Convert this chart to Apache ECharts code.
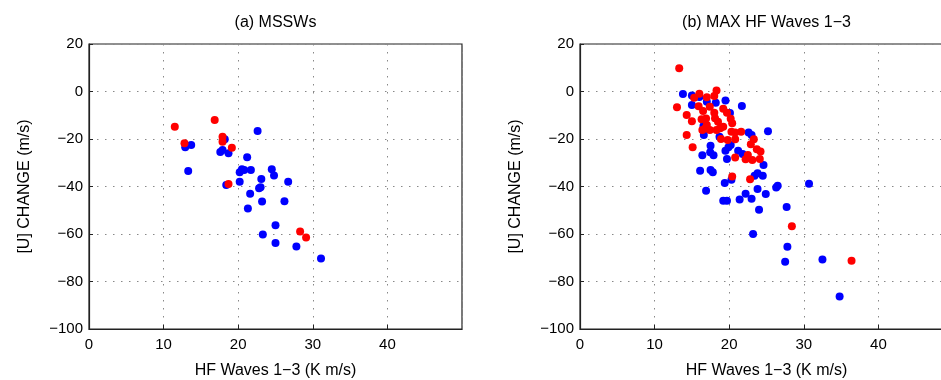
<!DOCTYPE html>
<html>
<head>
<meta charset="utf-8">
<script src="https://cdn.jsdelivr.net/npm/echarts@6/dist/echarts.min.js"></script>
<style>
html,body{margin:0;padding:0;background:#fff;overflow:hidden;}
#c{width:941px;height:380px;}
</style>
</head>
<body>
<div id="c"></div>
<script>
// ---- data ----
var panelTitles = ['(a) MSSWs', '(b) MAX HF Waves 1\u22123'];
var xAxisTitle = 'HF Waves 1\u22123 (K m/s)';
var yAxisTitle = '[U] CHANGE (m/s)';
var xTicks = [0, 10, 20, 30, 40];
var yTicks = [-100, -80, -60, -40, -20, 0, 20];

var mssw_blue = [
  [22.6,-16.6],[12.9,-23.5],[13.7,-22.5],[18.2,-20.1],[17.6,-25.5],[17.9,-24.6],
  [18.7,-26.0],[13.3,-33.5],[21.2,-27.7],[20.2,-34.0],[20.5,-32.7],[20.8,-33.0],
  [21.7,-33.0],[24.5,-32.7],[24.8,-35.4],[23.1,-36.8],[26.7,-38.0],[20.2,-38.0],
  [18.4,-39.4],[22.8,-40.7],[23.0,-40.3],[21.6,-43.1],[23.2,-46.3],[26.2,-46.2],
  [21.3,-49.3],[25.0,-56.3],[23.3,-60.2],[25.0,-63.8],[27.8,-65.3],[31.1,-70.3]
];
var mssw_red = [
  [11.5,-14.8],[16.85,-12.0],[12.8,-21.8],[17.9,-19.0],[17.9,-21.2],[19.15,-23.7],
  [18.7,-38.9],[28.3,-58.9],[29.1,-61.5]
];
var max_blue = [
  [13.8,-1.0],[15.0,-1.7],[15.0,-5.7],[16.0,-2.3],[17.0,-4.3],[18.2,-4.7],[19.5,-3.8],
  [21.7,-6.1],[20.1,-9.1],[16.55,-14.5],[16.6,-18.3],[18.7,-19.1],[22.6,-17.3],
  [23.0,-18.3],[25.2,-16.7],[17.5,-22.8],[17.45,-25.6],[16.4,-26.8],[17.9,-26.8],
  [19.5,-24.9],[19.9,-23.5],[20.2,-22.5],[19.7,-28.4],[21.2,-24.9],[21.8,-26.3],
  [24.6,-30.9],[23.8,-34.4],[23.4,-35.5],[24.5,-35.5],[16.1,-33.4],[17.5,-33.0],
  [17.8,-34.0],[19.4,-38.5],[20.3,-37.2],[16.9,-41.8],[22.2,-43.1],[23.8,-41.0],
  [24.9,-43.2],[26.3,-40.4],[26.5,-39.7],[19.2,-46.0],[19.7,-46.0],[21.4,-45.5],
  [23.0,-45.2],[24.0,-49.8],[27.7,-48.6],[23.2,-60.0],[27.8,-65.4],[27.5,-71.7],
  [32.5,-70.7],[34.8,-86.3],[30.7,-38.8]
];
var max_red = [
  [13.3,9.8],[13.0,-6.6],[14.3,-9.9],[14.3,-18.3],[15.1,-23.5],[15.0,-12.5],
  [15.3,-2.6],[16.0,-0.9],[15.9,-6.2],[16.5,-8.2],[16.3,-11.7],[16.4,-16.2],
  [17.0,-2.4],[17.4,-6.4],[18.0,-1.9],[18.3,0.4],[16.9,-11.4],[17.0,-14.1],
  [18.0,-8.9],[18.1,-11.3],[18.5,-12.7],[18.8,-15.5],[16.8,-15.5],[17.4,-16.2],
  [18.3,-16.2],[19.2,-7.3],[19.7,-8.9],[20.2,-11.5],[20.4,-13.4],[19.2,-14.8],
  [20.3,-16.9],[20.8,-17.3],[21.6,-16.9],[18.9,-20.0],[19.8,-20.4],[20.8,-20.1],
  [23.3,-20.1],[22.9,-22.2],[23.7,-24.3],[24.2,-25.3],[22.5,-26.7],[22.2,-28.5],
  [23.1,-28.8],[24.1,-28.4],[20.8,-27.8],[20.4,-35.8],[22.8,-36.9],[28.4,-56.7],
  [36.4,-71.3]
];

// ---- chart ----
var FONT = '"Liberation Sans", Arial, Helvetica, sans-serif';
var grids = [
  {left: 89, top: 44, width: 373, height: 285},
  {left: 580, top: 44, width: 373, height: 285}
];
function fmt(v){ return String(v).replace('-', '\u2212'); }
function xAx(i){
  return {
    type:'value', gridIndex:i, min:0, max:50, interval:10,
    name: xAxisTitle, nameLocation:'middle', nameGap:34,
    nameTextStyle:{fontFamily:FONT, fontSize:16, color:'#000'},
    axisLine:{show:true, onZero:false, lineStyle:{color:'#222', width:1.2}},
    axisTick:{show:true, inside:true, length:4, lineStyle:{color:'#222'}},
    axisLabel:{fontFamily:FONT, fontSize:15, color:'#000', margin:8, showMaxLabel:false,
      formatter:function(v){ return xTicks.indexOf(v) >= 0 ? fmt(v) : ''; }},
    splitLine:{show:true, lineStyle:{color:'#888', width:1, type:[1.5,6.5]}}
  };
}
function yAx(i){
  return {
    type:'value', gridIndex:i, min:-100, max:20, interval:20,
    name: yAxisTitle, nameLocation:'middle', nameGap:56, nameRotate:90,
    nameTextStyle:{fontFamily:FONT, fontSize:16, color:'#000'},
    axisLine:{show:true, onZero:false, lineStyle:{color:'#222', width:1.2}},
    axisTick:{show:true, inside:true, length:4, lineStyle:{color:'#222'}},
    axisLabel:{fontFamily:FONT, fontSize:15, color:'#000', margin:6,
      formatter:function(v){ return yTicks.indexOf(v) >= 0 ? fmt(v) : ''; }},
    splitLine:{show:true, lineStyle:{color:'#888', width:1, type:[1.5,6.5]}}
  };
}
function sc(data, color, i){
  return {type:'scatter', xAxisIndex:i, yAxisIndex:i, data:data, symbolSize:8,
    itemStyle:{color:color, opacity:1}, silent:true, animation:false};
}
var chart = echarts.init(document.getElementById('c'), null, {renderer:'canvas'});
chart.setOption({
  animation:false,
  backgroundColor:'#fff',
  grid: grids.map(function(g){ return Object.assign({show:true, borderColor:'#222', borderWidth:1.2,
    backgroundColor:'transparent', containLabel:false, outerBoundsMode:'none'}, g); }),
  xAxis:[xAx(0), xAx(1)],
  yAxis:[yAx(0), yAx(1)],
  graphic:[
    {type:'text', style:{text:panelTitles[0], x:275.5, y:23, textAlign:'center', textVerticalAlign:'middle', font:'16px ' + FONT, fill:'#000'}},
    {type:'text', style:{text:panelTitles[1], x:766.5, y:23, textAlign:'center', textVerticalAlign:'middle', font:'16px ' + FONT, fill:'#000'}}
  ],
  series:[
    sc(mssw_blue,'#0000ff',0), sc(mssw_red,'#ff0000',0),
    sc(max_blue,'#0000ff',1), sc(max_red,'#ff0000',1)
  ]
});
</script>
</body>
</html>
